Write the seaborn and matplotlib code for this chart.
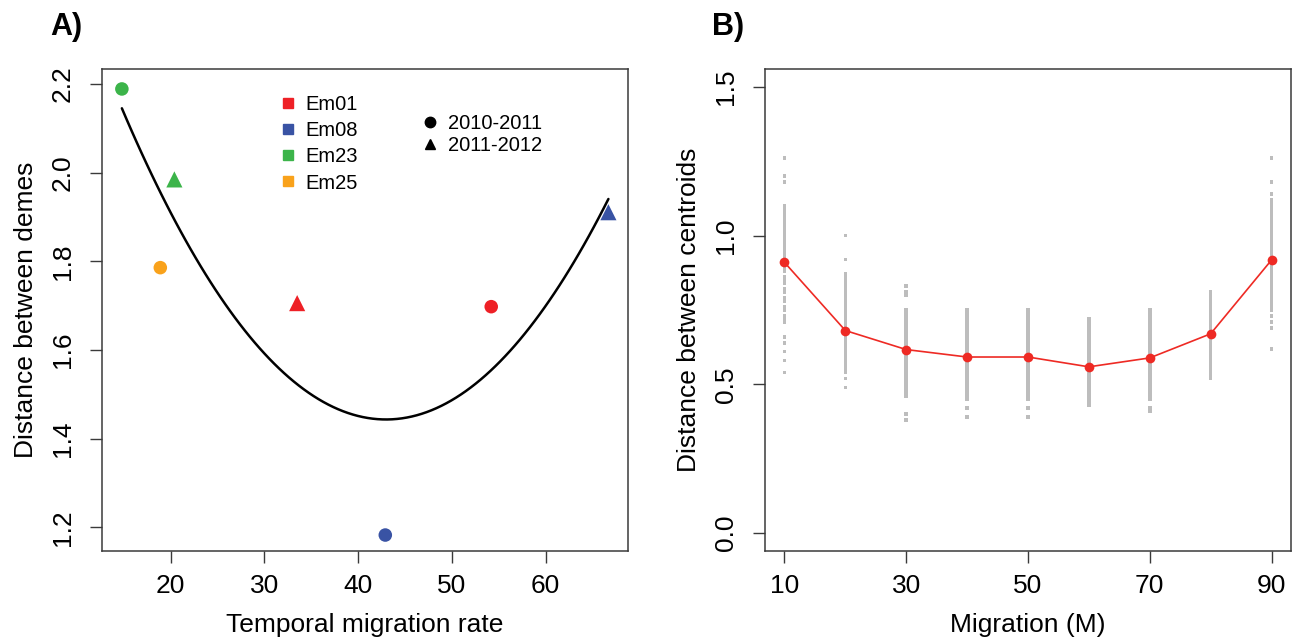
import matplotlib
matplotlib.use("Agg")
import matplotlib.pyplot as plt
import numpy as np
import pandas as pd
import seaborn as sns
from matplotlib.lines import Line2D

# ---------------- Panel A data ----------------
deme = ["Em23", "Em23", "Em25", "Em01", "Em08", "Em01", "Em08"]
period = ["2010-2011", "2011-2012", "2010-2011", "2011-2012",
          "2010-2011", "2010-2011", "2011-2012"]
rate = [14.8, 20.4, 18.9, 33.5, 42.9, 54.2, 66.7]
dist_demes = [2.189, 1.985, 1.786, 1.706, 1.183, 1.698, 1.911]
deme_names = ["Em01", "Em08", "Em23", "Em25"]
deme_colors = ["#EE2026", "#3953A4", "#3CB44A", "#F9A21B"]
period_names = ["2010-2011", "2011-2012"]
period_markers = ["o", "^"]

# ---------------- Panel B data ----------------
migration = [10, 20, 30, 40, 50, 60, 70, 80, 90]
mean_dist = [0.910, 0.681, 0.617, 0.592, 0.592, 0.559, 0.589, 0.670, 0.918]

rep_m10 = [1.26, 1.20, 1.18, 1.10, 1.09, 1.08, 1.07, 1.06, 1.05, 1.04, 1.03,
           1.02, 1.01, 1.00, 0.99, 0.98, 0.97, 0.96, 0.95, 0.94, 0.93, 0.91,
           0.90, 0.89, 0.88, 0.86, 0.85, 0.84, 0.82, 0.81, 0.79, 0.78, 0.76,
           0.75, 0.73, 0.72, 0.71, 0.66, 0.64, 0.61, 0.58, 0.54]
rep_m20 = [1.00, 0.92, 0.87, 0.86, 0.85, 0.84, 0.83, 0.82, 0.81, 0.80, 0.79,
           0.78, 0.77, 0.76, 0.75, 0.74, 0.73, 0.72, 0.71, 0.70, 0.69, 0.68,
           0.67, 0.66, 0.65, 0.64, 0.63, 0.62, 0.61, 0.60, 0.59, 0.58, 0.57,
           0.56, 0.55, 0.54, 0.52, 0.49]
rep_m30 = [0.83, 0.81, 0.80, 0.75, 0.74, 0.73, 0.72, 0.71, 0.70, 0.69, 0.68,
           0.67, 0.66, 0.65, 0.64, 0.63, 0.62, 0.61, 0.60, 0.59, 0.58, 0.57,
           0.56, 0.55, 0.54, 0.53, 0.52, 0.51, 0.50, 0.49, 0.48, 0.47, 0.46,
           0.40, 0.38]
rep_m40 = [0.75, 0.74, 0.73, 0.72, 0.71, 0.70, 0.69, 0.68, 0.67, 0.66, 0.65,
           0.64, 0.63, 0.62, 0.61, 0.60, 0.59, 0.58, 0.57, 0.56, 0.55, 0.54,
           0.53, 0.52, 0.51, 0.50, 0.49, 0.48, 0.47, 0.46, 0.45, 0.42, 0.39]
rep_m50 = [0.75, 0.74, 0.73, 0.72, 0.71, 0.70, 0.69, 0.68, 0.67, 0.66, 0.65,
           0.64, 0.63, 0.62, 0.61, 0.60, 0.59, 0.58, 0.57, 0.56, 0.55, 0.54,
           0.53, 0.52, 0.51, 0.50, 0.49, 0.48, 0.47, 0.46, 0.45, 0.42, 0.39]
rep_m60 = [0.72, 0.71, 0.70, 0.69, 0.68, 0.67, 0.66, 0.65, 0.64, 0.63, 0.62,
           0.61, 0.60, 0.59, 0.58, 0.57, 0.56, 0.55, 0.54, 0.53, 0.52, 0.51,
           0.50, 0.49, 0.48, 0.47, 0.46, 0.45, 0.44, 0.43]
rep_m70 = [0.75, 0.74, 0.73, 0.72, 0.71, 0.70, 0.69, 0.68, 0.67, 0.66, 0.65,
           0.64, 0.63, 0.62, 0.61, 0.60, 0.59, 0.58, 0.57, 0.56, 0.55, 0.54,
           0.53, 0.52, 0.51, 0.50, 0.49, 0.48, 0.47, 0.46, 0.45, 0.42, 0.41]
rep_m80 = [0.81, 0.80, 0.79, 0.78, 0.77, 0.76, 0.75, 0.74, 0.73, 0.72, 0.71,
           0.70, 0.69, 0.68, 0.67, 0.66, 0.65, 0.64, 0.63, 0.62, 0.61, 0.60,
           0.59, 0.58, 0.57, 0.56, 0.55, 0.54, 0.53, 0.52]
rep_m90 = [1.26, 1.18, 1.14, 1.12, 1.11, 1.10, 1.09, 1.08, 1.07, 1.06, 1.05,
           1.04, 1.03, 1.02, 1.01, 1.00, 0.99, 0.98, 0.97, 0.96, 0.95, 0.94,
           0.93, 0.92, 0.91, 0.90, 0.89, 0.88, 0.87, 0.86, 0.85, 0.84, 0.83,
           0.82, 0.81, 0.80, 0.79, 0.78, 0.77, 0.76, 0.75, 0.73, 0.71, 0.69,
           0.62]
replicates = [rep_m10, rep_m20, rep_m30, rep_m40, rep_m50,
              rep_m60, rep_m70, rep_m80, rep_m90]

# ---------------- style ----------------
sns.set_theme(style="ticks")
plt.rcParams["font.family"] = ["Liberation Sans", "DejaVu Sans"]
plt.rcParams["axes.edgecolor"] = "#3a3a3a"
plt.rcParams["axes.linewidth"] = 1.1
plt.rcParams["text.color"] = "black"
plt.rcParams["axes.labelcolor"] = "black"
plt.rcParams["xtick.labelcolor"] = "black"
plt.rcParams["ytick.labelcolor"] = "black"

W, H = 1297, 642
fig = plt.figure(figsize=(W / 100, H / 100), dpi=100)
fig.patch.set_facecolor("white")


def px_axes(left, right, top, bottom):
    return fig.add_axes([left / W, 1 - bottom / H, (right - left) / W, (bottom - top) / H])


axA = px_axes(102, 628, 69, 551)
axB = px_axes(765, 1291, 69, 551)

FS = 19

# ---------------- Panel A ----------------
dfA = pd.DataFrame({"rate": rate, "dist": dist_demes, "deme": deme, "period": period})
sns.regplot(data=dfA, x="rate", y="dist", order=2, ci=None, scatter=False,
            truncate=True, color="black", line_kws={"lw": 1.8}, ax=axA)
sns.scatterplot(data=dfA, x="rate", y="dist", hue="deme", style="period",
                size="period", sizes=dict(zip(period_names, [95, 135])),
                hue_order=deme_names, palette=dict(zip(deme_names, deme_colors)),
                markers=dict(zip(period_names, period_markers)),
                style_order=period_names, edgecolor="none",
                legend=False, ax=axA, zorder=3)

axA.set_xlim(12.68, 68.79)
axA.set_ylim(1.147, 2.234)
axA.set_xticks([20, 30, 40, 50, 60])
axA.set_yticks([1.2, 1.4, 1.6, 1.8, 2.0, 2.2])
axA.set_yticklabels(["1.2", "1.4", "1.6", "1.8", "2.0", "2.2"])
axA.set_xlabel("Temporal migration rate", fontsize=FS, labelpad=11)
axA.set_ylabel("Distance between demes", fontsize=FS, labelpad=9)

h1 = [Line2D([], [], marker="s", ls="none", color=c, markersize=6.5) for c in deme_colors]
leg1 = axA.legend(h1, deme_names, loc="upper left", bbox_to_anchor=(0.32, 0.962),
                  frameon=False, fontsize=14.5, handletextpad=0.35,
                  labelspacing=0.35, handlelength=1.0, borderaxespad=0)
axA.add_artist(leg1)
h2 = [Line2D([], [], marker=m, ls="none", color="black", markersize=7.5)
      for m in period_markers]
axA.legend(h2, period_names, loc="upper left", bbox_to_anchor=(0.59, 0.924),
           frameon=False, fontsize=14.5, handletextpad=0.35,
           labelspacing=0.15, handlelength=1.0, borderaxespad=0)

# ---------------- Panel B ----------------
dfB = pd.DataFrame({
    "M": [m for m, reps in zip(migration, replicates) for _ in reps],
    "d": [v for reps in replicates for v in reps],
})
sns.scatterplot(data=dfB, x="M", y="d", color="#BDBDBD", s=7, edgecolor="none",
                marker="s", legend=False, ax=axB, zorder=2)
sns.lineplot(x=migration, y=mean_dist, color="#EE2A24", lw=1.2, marker="o",
             markersize=7, markeredgecolor="none", ax=axB, zorder=3)

axB.set_xlim(6.8, 93.2)
axB.set_ylim(-0.06, 1.56)
axB.set_xticks([10, 30, 50, 70, 90])
axB.set_yticks([0.0, 0.5, 1.0, 1.5])
axB.set_yticklabels(["0.0", "0.5", "1.0", "1.5"])
axB.set_xlabel("Migration (M)", fontsize=FS, labelpad=11)
axB.set_ylabel("Distance between centroids", fontsize=FS, labelpad=9)

for ax in (axA, axB):
    for sp in ax.spines.values():
        sp.set_visible(True)
    ax.tick_params(axis="both", direction="out", length=8.5, width=1.0,
                   color="#3a3a3a", labelsize=FS, labelcolor="black")
    ax.tick_params(axis="x", pad=8)
    ax.tick_params(axis="y", labelrotation=90, pad=11)
    for lab in ax.get_yticklabels():
        lab.set_va("center")

fig.text(50 / W, 1 - 35 / H, "A)", fontsize=22, fontweight="bold", ha="left", va="baseline")
fig.text(712 / W, 1 - 35 / H, "B)", fontsize=22, fontweight="bold", ha="left", va="baseline")

fig.savefig("out.png", dpi=100, facecolor="white")
